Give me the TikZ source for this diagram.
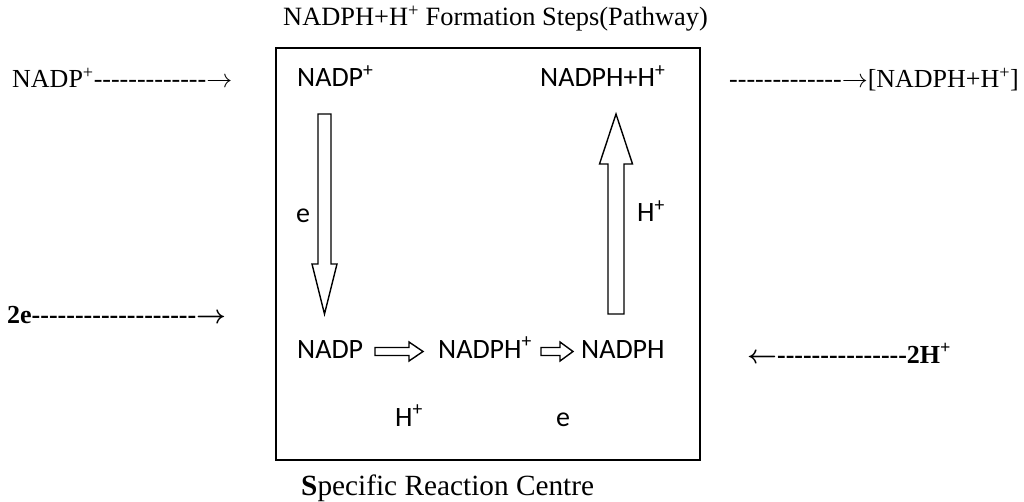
\RequirePackage{fix-cm}
\documentclass[tikz,border=0pt]{standalone}
\usepackage{amsmath}
\usepackage{fontspec}
\newfontfamily\serfont{Liberation Serif}
\newfontfamily\calfont{Carlito}
\newcommand\dashes[1]{\foreach\i in {1,...,#1}{-\kern0pt}}
\newcommand\rarr{$\rightarrow$}
\newcommand\brarr{$\boldsymbol{\rightarrow}$}
\newcommand\blarr{$\boldsymbol{\leftarrow}$}
\tikzset{
  sertext/.style={font=\serfont\fontsize{26}{30}\selectfont, inner sep=0pt, anchor=base west},
  boldtext/.style={font=\serfont\bfseries\fontsize{26}{30}\selectfont, inner sep=0pt, anchor=base west},
  caltext/.style={font=\calfont\fontsize{28}{32}\selectfont, inner sep=0pt, anchor=base west},
  blockarrow/.style={draw, line width=1.4pt, fill=white, line join=miter},
  frame/.style={draw, line width=2pt, inner sep=0pt, minimum width=424pt, minimum height=412pt, anchor=north west}
}
\begin{document}
\begin{tikzpicture}[x=1pt,y=-1pt]
\useasboundingbox[fill=white] (0,0) rectangle (1024,502);
% frame
\node[frame] (box) at (275,47) {};
% outside texts
\node[sertext, font=\serfont\fontsize{26.4}{30}\selectfont] (title) at (283,26) {NADPH+H\textsuperscript{+} Formation Steps(Pathway)};
\node[sertext] (inL) at (12,88) {NADP\textsuperscript{+}\dashes{13}\rarr};
\node[sertext] (outR) at (729,88) {\dashes{13}\rarr[NADPH+H\textsuperscript{+}]};
\node[boldtext] (eL) at (7,323) {2e\dashes{19}\brarr};
\node[boldtext] (hR) at (747,363) {\blarr\dashes{15}2H\textsuperscript{+}};
\node[sertext, font=\serfont\fontsize{29.3}{33}\selectfont] (cap) at (301,495) {\textbf{S}pecific Reaction Centre};
% inside texts
\node[caltext] (nadpP) at (297,87) {NADP\textsuperscript{+}};
\node[caltext] (nadphH) at (540,87) {NADPH+H\textsuperscript{+}};
\node[caltext] (e1) at (296,223) {e};
\node[caltext] (h1) at (637,222) {H\textsuperscript{+}};
\node[caltext] (nadp) at (297,358) {NADP};
\node[caltext] (nadphP) at (438,358) {NADPH\textsuperscript{+}};
\node[caltext] (nadph) at (581,358) {NADPH};
\node[caltext] (h2) at (395,426) {H\textsuperscript{+}};
\node[caltext] (e2) at (556,426) {e};
% block arrows
\draw[blockarrow] (318,114) -- (331,114) -- (331,264) -- (337,264) -- (324.5,314) -- (312,264) -- (318,264) -- cycle;
\draw[blockarrow] (608,314) -- (624,314) -- (624,164) -- (632.5,164) -- (616,114) -- (599.5,164) -- (608,164) -- cycle;
\draw[blockarrow] (375,347.5) -- (409,347.5) -- (409,342) -- (423,351.5) -- (409,361) -- (409,355.5) -- (375,355.5) -- cycle;
\draw[blockarrow] (541,347.5) -- (560,347.5) -- (560,342) -- (573,351.5) -- (560,361) -- (560,355.5) -- (541,355.5) -- cycle;
\end{tikzpicture}
\end{document}
